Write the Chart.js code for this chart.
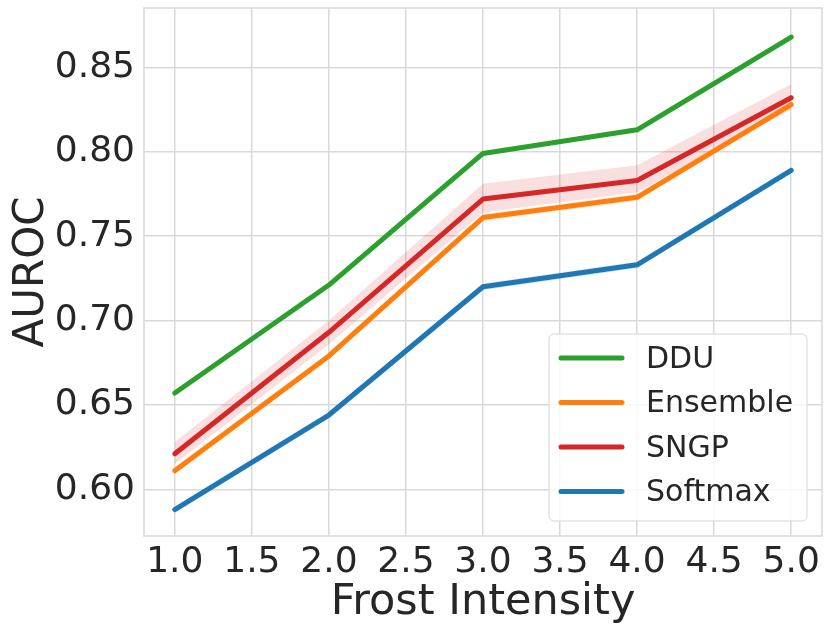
<!DOCTYPE html>
<html>
<head>
<meta charset="utf-8">
<script src="https://cdn.jsdelivr.net/npm/chart.js@4.4.1/dist/chart.umd.min.js"></script>
<style>
  html, body { margin: 0; padding: 0; background: #fff; }
  #wrap { width: 831px; height: 635px; }
</style>
</head>
<body>
<div id="wrap"><canvas id="frostChart" width="831" height="635"></canvas></div>
<script>
// frost intensity levels and AUROC per method
const intensity = [1, 2, 3, 4, 5];
const ddu = [0.657, 0.721, 0.799, 0.813, 0.868];
const ensemble = [0.611, 0.679, 0.761, 0.773, 0.828];
const sngp = [0.621, 0.693, 0.772, 0.783, 0.832];
const softmax = [0.588, 0.644, 0.720, 0.733, 0.789];

// confidence bands (lower / upper)
const dduLow = [0.656, 0.720, 0.798, 0.812, 0.867];
const dduHigh = [0.658, 0.722, 0.800, 0.814, 0.869];
const ensembleLow = [0.609, 0.677, 0.759, 0.771, 0.826];
const ensembleHigh = [0.613, 0.681, 0.763, 0.775, 0.830];
const sngpLow = [0.615, 0.686, 0.764, 0.776, 0.825];
const sngpHigh = [0.628, 0.700, 0.781, 0.792, 0.840];
const softmaxLow = [0.586, 0.642, 0.718, 0.731, 0.787];
const softmaxHigh = [0.590, 0.646, 0.722, 0.735, 0.791];

const xTicks = [1.0, 1.5, 2.0, 2.5, 3.0, 3.5, 4.0, 4.5, 5.0];
const yTicks = [0.60, 0.65, 0.70, 0.75, 0.80, 0.85];

const methods = ['DDU', 'Ensemble', 'SNGP', 'Softmax'];
const colors = ['#2ca02c', '#ff7f0e', '#d62728', '#1f77b4'];
const means = [ddu, ensemble, sngp, softmax];
const lows = [dduLow, ensembleLow, sngpLow, softmaxLow];
const highs = [dduHigh, ensembleHigh, sngpHigh, softmaxHigh];

const pts = arr => intensity.map((x, i) => ({ x: x, y: arr[i] }));

function hexAlpha(hex, a) {
    const n = parseInt(hex.slice(1), 16);
    return `rgba(${(n >> 16) & 255}, ${(n >> 8) & 255}, ${n & 255}, ${a})`;
}

const datasets = [];
// bands first, underneath everything
methods.forEach((m, k) => {
    datasets.push({
        label: m + ' hi', data: pts(highs[k]), borderWidth: 0, pointRadius: 0,
        fill: false, order: 20 + k
    });
    datasets.push({
        label: m + ' lo', data: pts(lows[k]), borderWidth: 0, pointRadius: 0,
        fill: { target: datasets.length - 1 }, backgroundColor: hexAlpha(colors[k], 0.15),
        order: 20 + k
    });
});
methods.forEach((m, k) => {
    datasets.push({
        label: m, data: pts(means[k]), borderColor: colors[k], borderWidth: 5,
        borderCapStyle: 'round', borderJoinStyle: 'round', pointRadius: 0,
        fill: false, tension: 0, order: 10 - k
    });
});

const gridColor = '#d9d9d9';
const textColor = '#262626';
const fontFamily = "'DejaVu Sans', sans-serif";

// plot frame + legend box inside the plot area
const framePlugin = {
    id: 'frame',
    beforeDatasetsDraw(chart) {
        const { ctx, chartArea: a } = chart;
        ctx.save();
        ctx.strokeStyle = gridColor;
        ctx.lineWidth = 1.5;
        ctx.strokeRect(a.left, a.top, a.right - a.left, a.bottom - a.top);
        ctx.restore();
    },
    afterDraw(chart) {
        const ctx = chart.ctx;
        const bx = 549, by = 334, bw = 258, bh = 187, r = 5;
        ctx.save();
        ctx.beginPath();
        ctx.roundRect(bx, by, bw, bh, r);
        ctx.fillStyle = 'rgba(255,255,255,0.8)';
        ctx.fill();
        ctx.strokeStyle = '#d6d6d6';
        ctx.lineWidth = 1;
        ctx.stroke();
        ctx.font = '30px ' + fontFamily;
        ctx.textBaseline = 'middle';
        ctx.fillStyle = textColor;
        methods.forEach((m, k) => {
            const y = 358 + k * 44.5;
            ctx.beginPath();
            ctx.moveTo(561, y);
            ctx.lineTo(622, y);
            ctx.strokeStyle = colors[k];
            ctx.lineWidth = 5;
            ctx.lineCap = 'round';
            ctx.stroke();
            ctx.fillText(m, 646, y + 2);
        });
        ctx.restore();
    }
};

const ctx = document.getElementById('frostChart').getContext('2d');
new Chart(ctx, {
    type: 'line',
    data: { datasets: datasets },
    options: {
        responsive: false,
        animation: false,
        devicePixelRatio: 1,
        layout: { padding: { left: 0, top: 8, right: 9, bottom: 0 } },
        plugins: {
            legend: { display: false },
            tooltip: { enabled: false }
        },
        scales: {
            x: {
                type: 'linear', min: 0.8, max: 5.2,
                afterBuildTicks: s => { s.ticks = xTicks.map(v => ({ value: v })); },
                afterFit: s => { s.height = 99; s.paddingLeft = 0; s.paddingRight = 0; },
                ticks: {
                    callback: v => v.toFixed(1), color: textColor, padding: 5,
                    font: { family: fontFamily, size: 36 }, maxRotation: 0, autoSkip: false
                },
                grid: { color: gridColor, lineWidth: 1.5, drawTicks: false },
                border: { display: false },
                title: {
                    display: true, text: 'Frost Intensity', color: textColor,
                    font: { family: fontFamily, size: 43 }, padding: { top: 0, bottom: 6 }
                }
            },
            y: {
                type: 'linear', min: 0.5723, max: 0.8852,
                afterBuildTicks: s => { s.ticks = yTicks.map(v => ({ value: v })); },
                afterFit: s => { s.width = 144; s.paddingTop = 0; s.paddingBottom = 0; },
                ticks: {
                    callback: v => v.toFixed(2), color: textColor, padding: 9,
                    font: { family: fontFamily, size: 36 }
                },
                grid: { color: gridColor, lineWidth: 1.5, drawTicks: false },
                border: { display: false },
                title: {
                    display: true, text: 'AUROC', color: textColor,
                    font: { family: fontFamily, size: 42 }, padding: { top: 7, bottom: 0 }
                }
            }
        }
    },
    plugins: [framePlugin]
});
</script>
</body>
</html>
